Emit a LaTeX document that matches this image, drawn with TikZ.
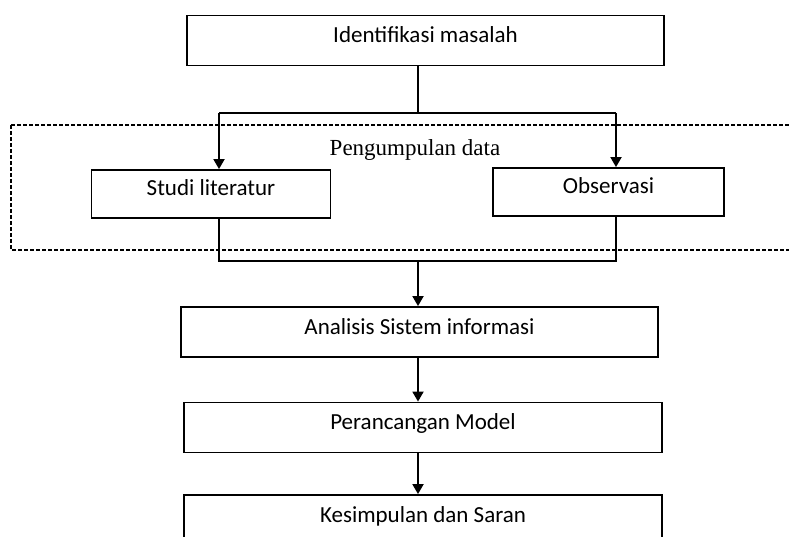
\documentclass[tikz,border=0pt]{standalone}
\usepackage{fontspec}
\setmainfont{Liberation Serif}
\newfontfamily\boxfont{Carlito}
\usetikzlibrary{arrows.meta}

\begin{document}
\begin{tikzpicture}
[ x=1pt, y=-1pt, line width=1.8pt, text height=14pt, text depth=10pt
, point/.style={coordinate}
, stepbox/.style={rectangle, draw, minimum height=50pt, inner sep=0pt, font=\boxfont\fontsize{23}{27}\selectfont}
, group/.style={draw, line width=1.2pt, dash pattern=on 4pt off 2pt}
, arrow/.style={-{Triangle[length=10pt, width=11pt]}}
]
\useasboundingbox (0,0) rectangle (789,537);
\clip (0,0) rectangle (789,537);
% Dashed frame round the data collection:
\draw [group] (11,125) rectangle (800,250);
\node (title) at (415,156) [anchor=base, text height=, text depth=, font=\fontsize{23}{27}\selectfont] {Pengumpulan data};
% Boxes:
\node (ident) at (425.5,40.5) [stepbox, minimum width=477pt] {Identifikasi masalah};
\node (studi) at (211,194) [stepbox, minimum width=239pt, minimum height=48pt] {Studi literatur};
\node (obs) at (608.5,192) [stepbox, minimum width=231pt, minimum height=48pt] {Observasi};
\node (anal) at (419.5,332) [stepbox, minimum width=477pt] {Analisis Sistem informasi};
\node (model) at (423,427.5) [stepbox, minimum width=478pt] {Perancangan Model};
\node (saran) at (423,520) [stepbox, minimum width=478pt] {Kesimpulan dan Saran};
% Junction points:
\node (p1) at (418,113) [point] {};
\node (p2) at (219,113) [point] {};
\node (p3) at (616,113) [point] {};
\node (p4) at (219,261) [point] {};
\node (p5) at (616,261) [point] {};
\node (p6) at (418,261) [point] {};
% Connectors:
\draw (ident.south -| p1) -- (p1);
\draw (p2) -- (p3);
\draw [arrow] (p2) -- (p2 |- studi.north);
\draw [arrow] (p3) -- (p3 |- obs.north);
\draw (p4 |- studi.south) -- (p4) -- (p5) -- (p5 |- obs.south);
\draw [arrow] (p6) -- (p6 |- anal.north);
\draw [arrow] (anal.south -| p6) -- (model.north -| p6);
\draw [arrow] (model.south -| p6) -- (saran.north -| p6);
\end{tikzpicture}
\end{document}
